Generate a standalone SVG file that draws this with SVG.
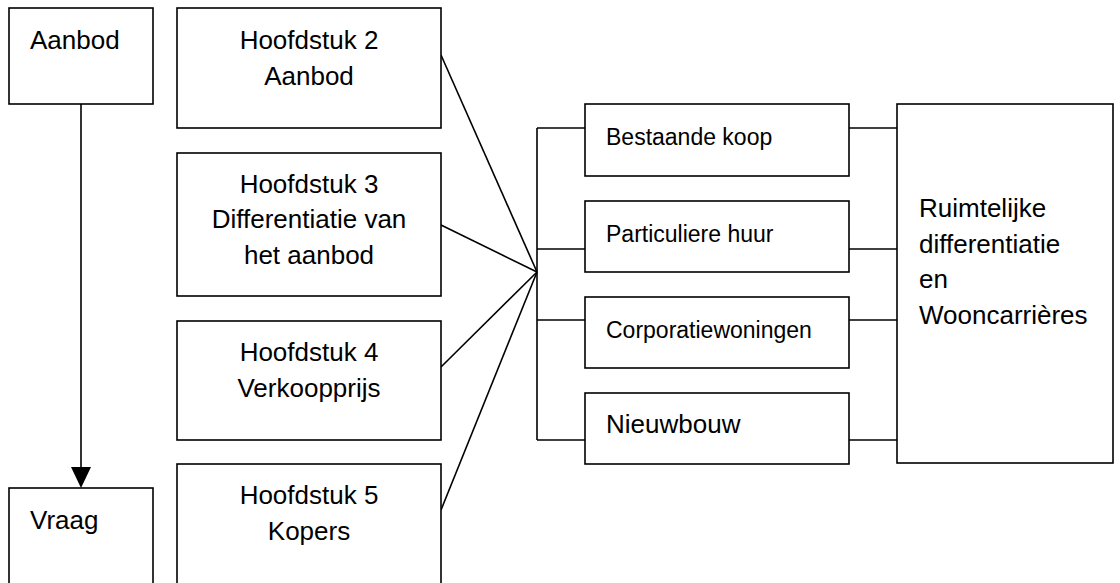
<svg xmlns="http://www.w3.org/2000/svg" width="1120" height="583" viewBox="0 0 1120 583">
<style>
.n rect{fill:#fff;stroke:#000;stroke-width:1.6}
.c line{stroke:#000;stroke-width:1.6;fill:none}
text{font-family:"Liberation Sans",Arial,sans-serif;fill:#000}
.b{font-size:26px}
.m{text-anchor:middle}
.s{font-size:23px}
</style>
<rect width="1120" height="583" fill="#fff"/>
<g class="c" id="connectors">
<line x1="81" y1="104" x2="81" y2="470"/>
<path d="M71,467 L91,467 L81,488 Z" fill="#000"/>
<line x1="441" y1="55" x2="537" y2="272"/>
<line x1="441" y1="225" x2="537" y2="272"/>
<line x1="441" y1="367" x2="537" y2="272"/>
<line x1="441" y1="510" x2="537" y2="272"/>
<line x1="537" y1="128" x2="537" y2="440"/>
<line x1="537" y1="128" x2="585" y2="128"/>
<line x1="537" y1="249" x2="585" y2="249"/>
<line x1="537" y1="320" x2="585" y2="320"/>
<line x1="537" y1="440" x2="585" y2="440"/>
<line x1="849" y1="128" x2="897" y2="128"/>
<line x1="849" y1="249" x2="897" y2="249"/>
<line x1="849" y1="320" x2="897" y2="320"/>
<line x1="849" y1="440" x2="897" y2="440"/>
</g>
<g class="n" id="aanbod"><rect x="9" y="8" width="144" height="96"/><text class="b" x="30" y="49">Aanbod</text></g>
<g class="n" id="vraag"><rect x="9" y="488" width="144" height="110"/><text class="b" x="30" y="529">Vraag</text></g>
<g class="n" id="h2"><rect x="177" y="8" width="264" height="120"/><text class="b m" x="309" y="49">Hoofdstuk 2</text><text class="b m" x="309" y="85">Aanbod</text></g>
<g class="n" id="h3"><rect x="177" y="153" width="264" height="143"/><text class="b m" x="309" y="193">Hoofdstuk 3</text><text class="b m" x="309" y="228">Differentiatie van</text><text class="b m" x="309" y="264">het aanbod</text></g>
<g class="n" id="h4"><rect x="177" y="321" width="264" height="119"/><text class="b m" x="309" y="361">Hoofdstuk 4</text><text class="b m" x="309" y="397">Verkoopprijs</text></g>
<g class="n" id="h5"><rect x="177" y="464" width="264" height="134"/><text class="b m" x="309" y="504">Hoofdstuk 5</text><text class="b m" x="309" y="540">Kopers</text></g>
<g class="n" id="bestaande"><rect x="585" y="104" width="264" height="72"/><text class="s" x="606" y="145">Bestaande koop</text></g>
<g class="n" id="particuliere"><rect x="585" y="201" width="264" height="71"/><text class="s" x="606" y="242">Particuliere huur</text></g>
<g class="n" id="corporatie"><rect x="585" y="297" width="264" height="71"/><text class="s" x="606" y="338">Corporatiewoningen</text></g>
<g class="n" id="nieuwbouw"><rect x="585" y="393" width="264" height="71"/><text class="b" x="606" y="433">Nieuwbouw</text></g>
<g class="n" id="ruimtelijk"><rect x="897" y="104" width="216" height="359"/>
<text class="b" x="919" y="217">Ruimtelijke</text>
<text class="b" x="919" y="253">differentiatie</text>
<text class="b" x="919" y="288">en</text>
<text class="b" x="919" y="324">Wooncarrières</text></g>
</svg>
